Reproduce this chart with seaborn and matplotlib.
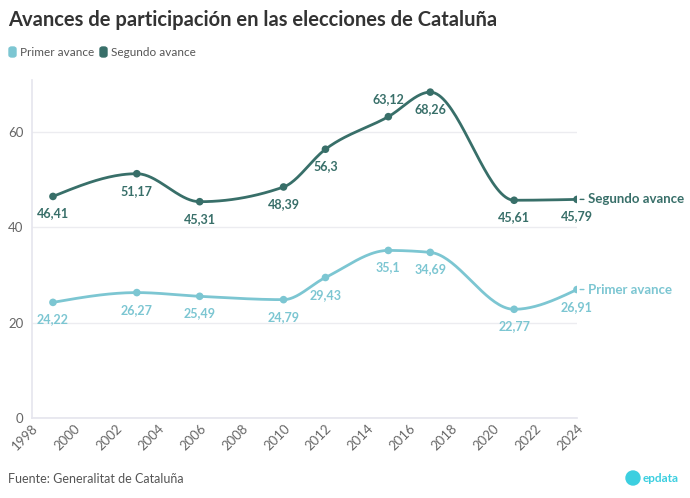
import numpy as np
import pandas as pd
import seaborn as sns
import matplotlib.pyplot as plt
from matplotlib.patches import FancyBboxPatch, Ellipse

# data
years = [1999, 2003, 2006, 2010, 2012, 2015, 2017, 2021, 2024]
primer = [24.22, 26.27, 25.49, 24.79, 29.43, 35.1, 34.69, 22.77, 26.91]
segundo = [46.41, 51.17, 45.31, 48.39, 56.3, 63.12, 68.26, 45.61, 45.79]
series_names = ["Primer avance", "Segundo avance"]
colors = {"Primer avance": "#7cc6d2", "Segundo avance": "#386f69"}

# label placement per point: 1 = above, -1 = below
primer_pos = [-1, -1, -1, -1, -1, -1, -1, -1, -1]
segundo_pos = [-1, -1, -1, -1, -1, 1, -1, -1, -1]


def monotone(x, y, n=40):
    # monotone cubic (like d3 curveMonotoneX)
    x = np.asarray(x, float)
    y = np.asarray(y, float)
    h = np.diff(x)
    s = np.diff(y) / h
    m = np.zeros_like(y)
    for i in range(1, len(y) - 1):
        if s[i - 1] * s[i] <= 0:
            m[i] = 0
        else:
            p = (s[i - 1] * h[i] + s[i] * h[i - 1]) / (h[i - 1] + h[i])
            m[i] = np.sign(s[i - 1]) * min(abs(s[i - 1]), abs(s[i]), 0.5 * abs(p)) * 2
    m[0] = (3 * s[0] - m[1]) / 2 if s[0] * (3 * s[0] - m[1]) > 0 else 0
    m[-1] = (3 * s[-1] - m[-2]) / 2 if s[-1] * (3 * s[-1] - m[-2]) > 0 else 0
    xs, ys = [], []
    for i in range(len(x) - 1):
        t = np.linspace(0, 1, n)
        h00 = 2 * t**3 - 3 * t**2 + 1
        h10 = t**3 - 2 * t**2 + t
        h01 = -2 * t**3 + 3 * t**2
        h11 = t**3 - t**2
        xs.extend(x[i] + t * h[i])
        ys.extend(h00 * y[i] + h10 * h[i] * m[i] + h01 * y[i + 1] + h11 * h[i] * m[i + 1])
    return np.array(xs), np.array(ys)


sns.set_theme(style="white")
plt.rcParams['font.family'] = ['Lato', 'DejaVu Sans']

fig = plt.figure(figsize=(6.9, 4.98), dpi=100)
ax = fig.add_axes([32 / 690, 80 / 498, 545 / 690, 338 / 498])

df = pd.DataFrame({"year": years * 2,
                   "value": primer + segundo,
                   "serie": [series_names[0]] * len(years) + [series_names[1]] * len(years)})

for name, vals, pos in [(series_names[0], primer, primer_pos), (series_names[1], segundo, segundo_pos)]:
    c = colors[name]
    xs, ys = monotone(years, vals)
    ax.plot(xs, ys, color=c, lw=2, solid_capstyle='round', zorder=3)
    sub = df[df.serie == name]
    sns.scatterplot(data=sub, x="year", y="value", color=c, s=30, edgecolor='none', ax=ax, zorder=4, legend=False)
    for x, v, p in zip(years, vals, pos):
        ax.annotate(f"{v:g}".replace(".", ","), (x, v), xytext=(0, 8 * p), textcoords="offset points",
                    ha="center", va="bottom" if p > 0 else "top", fontsize=9, fontweight="bold", color=c, zorder=5)
    ax.annotate(name, (years[-1], vals[-1]), xytext=(8, 0), textcoords="offset points",
                ha="left", va="center", fontsize=9.5, fontweight="bold", color=c, annotation_clip=False)
    ax.annotate("", (years[-1] + 0.33, vals[-1]), xytext=(years[-1] + 0.15, vals[-1]),
                arrowprops=dict(arrowstyle="-", color=c, lw=1, shrinkA=0, shrinkB=0), annotation_clip=False)

ax.set_xlim(1998, 2024)
ax.set_ylim(0, 70.8)
ax.set_xticks(range(1998, 2025, 2))
ax.set_yticks([0, 20, 40, 60])
ax.tick_params(axis='x', labelsize=9.5, colors="#666666", length=0, pad=3)
ax.tick_params(axis='y', labelsize=9.5, colors="#666666", length=0, pad=6)
plt.setp(ax.get_xticklabels(), rotation=45, ha="right", rotation_mode="anchor")
ax.grid(axis='y', color="#ececf0", lw=1)
ax.set_xlabel("")
ax.set_ylabel("")
for sp in ["top", "right"]:
    ax.spines[sp].set_visible(False)
ax.spines["left"].set_color("#e6e6ee")
ax.spines["bottom"].set_color("#e6e6ee")

fig.text(8 / 690, 1 - 20 / 498, "Avances de participación en las elecciones de Cataluña",
         fontsize=14.5, fontweight="bold", color="#333333", va="center")

# legend
legend_x = [9, 100]
for name, lx in zip(series_names, legend_x):
    fig.patches.append(FancyBboxPatch((lx / 690, 1 - 57 / 498), 7 / 690, 10 / 498,
                                      boxstyle="round,pad=0,rounding_size=0.004",
                                      transform=fig.transFigure, color=colors[name]))
    fig.text((lx + 11) / 690, 1 - 52 / 498, name, fontsize=8.5, color="#555555", va="center")

fig.text(8 / 690, 1 - 479 / 498, "Fuente: Generalitat de Cataluña", fontsize=9, color="#555555", va="center")
fig.patches.append(Ellipse((633 / 690, 1 - 478 / 498), 14 / 690, 14 / 498, transform=fig.transFigure, color="#3ccfe0"))
fig.text(643 / 690, 1 - 478 / 498, "epdata", fontsize=8.5, fontweight="bold", color="#3ccfe0", va="center")

fig.savefig("out.png", dpi=100)
